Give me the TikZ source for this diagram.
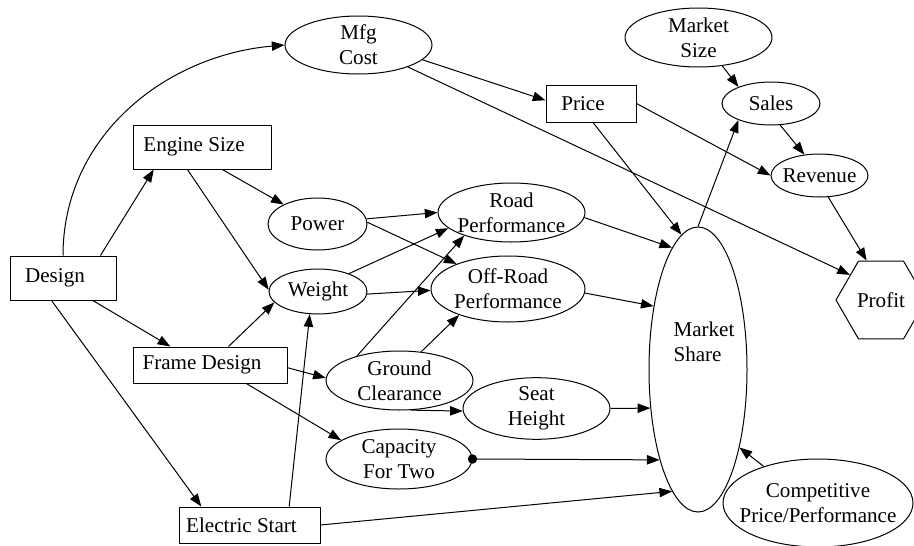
\documentclass[tikz,border=0pt]{standalone}
\usepackage{fontspec}
\setmainfont{Liberation Serif}
\usetikzlibrary{arrows.meta,shapes}

\tikzset{
	>={Triangle[length=9.5pt,width=7pt]},
	every node/.style={font=\fontsize{15.8pt}{18.8pt}\selectfont},
	box/.style={draw, rectangle, inner sep=0pt, execute at end node={\hspace*{12pt}}},
	oval/.style={draw, ellipse, align=center, inner xsep=-10pt, inner ysep=0pt},
	link/.style={->, line width=0.75pt},
}

\begin{document}
\begin{tikzpicture}[x=0.75pt, y=-0.75pt, line width=0.75pt]
		\useasboundingbox (0,0) rectangle (914,546);
% decisions
\node[box, minimum width=79.5pt, minimum height=33pt] (design) at (63,278) {Design};
\node[box, minimum width=103.5pt, minimum height=33pt] (engine) at (202,147) {Engine Size};
\node[box, minimum width=115.5pt, minimum height=27pt] (frame) at (210,365) {Frame Design};
\node[box, minimum width=105.75pt, minimum height=27pt] (estart) at (249.5,525) {Electric Start};
\node[box, minimum width=67.5pt, minimum height=27.75pt] (price) at (591,103.5) {Price};
% chance nodes
\node[oval, minimum width=110.25pt, minimum height=43.5pt] (mfg) at (358.5,45) {Mfg\\Cost};
\node[oval, minimum width=74.25pt, minimum height=39pt] (power) at (317.5,224) {Power};
\node[oval, minimum width=73.5pt, minimum height=33.75pt] (weight) at (318,291.5) {Weight};
\node[oval, minimum width=110.25pt, minimum height=44.25pt] (road) at (511.5,212.5) {Road\\Performance};
\node[oval, minimum width=115.5pt, minimum height=49.5pt] (offroad) at (508,289) {Off-Road\\Performance};
\node[oval, minimum width=110.25pt, minimum height=44.25pt] (ground) at (399.5,380.5) {Ground\\Clearance};
\node[oval, minimum width=110.25pt, minimum height=44.25pt] (seat) at (536.5,408.5) {Seat\\Height};
\node[oval, minimum width=109.5pt, minimum height=45pt] (capacity) at (399,459) {Capacity\\For Two};
\node[oval, minimum width=73.5pt, minimum height=213.75pt] (ms) at (698,369.5) {};
\node[align=left, inner sep=0pt] (mstext) at (704,342) {Market\\Share};
\node[oval, minimum width=142.5pt, minimum height=66pt] (comp) at (818,503) {Competitive\\Price/Performance};
\node[oval, minimum width=110.25pt, minimum height=44.25pt] (msize) at (698.5,37.5) {Market\\Size};
\node[oval, minimum width=73.5pt, minimum height=32.25pt] (sales) at (771,103.5) {Sales};
\node[oval, minimum width=72.75pt, minimum height=32.25pt] (revenue) at (819.5,175.5) {Revenue};
% value
\node[draw, regular polygon, regular polygon sides=6, minimum size=67.5pt, inner sep=0pt] (profit) at (881,300) {Profit};

\draw[link] (design.north) to[out=90, in=185] (mfg.west);
\draw[link] (design.31) -- (engine.205);
\draw[link] (design.-37) -- (frame.155);
\draw[link] (design.243) -- (estart.159);
\draw[link] (engine.-48) -- (power.150);
\draw[link] (engine.237) -- (weight.178);
\draw[link] (frame.45) -- (weight.194);
\draw[link] (frame.-2) -- (ground.178);
\draw[link] (frame.-27) -- (capacity.162);
\draw[link] (estart.25) -- (weight.250);
\draw[link] (estart.east) -- (ms.258);
\draw[link] (power.6) -- (road.west);
\draw[link] (power.2) -- (offroad.154);
\draw[link] (weight.30) -- (road.194);
\draw[link] (weight.-3) -- (offroad.181);
\draw[link] (ground.150) -- (road.206);
\draw[link] (ground.53) -- (offroad.208);
\draw[link] (ground.-69) -- (seat.182);
\draw[link] (seat.east) -- (ms.219);
\draw[{Circle[length=7pt]}->, shorten <=-3.5pt] (capacity.east) -- (ms.247);
\draw[link] (road.-4) -- (ms.102);
\draw[link] (offroad.-3) -- (ms.125);
\draw[link] (mfg.-13) -- (price.176);
\draw[link] (mfg.-24) -- (profit.141);
\draw[link] (price.-84) -- (ms.97);
\draw[link] (price.east) -- (revenue.west);
\draw[link] (ms.north) -- (sales.207);
\draw[link] (msize.-50) -- (sales.153);
\draw[link] (sales.-67) -- (revenue.126);
\draw[link] (revenue.-68) -- (profit.110);
\draw[link] (comp.146) -- (ms.-62);
\end{tikzpicture}
\end{document}
